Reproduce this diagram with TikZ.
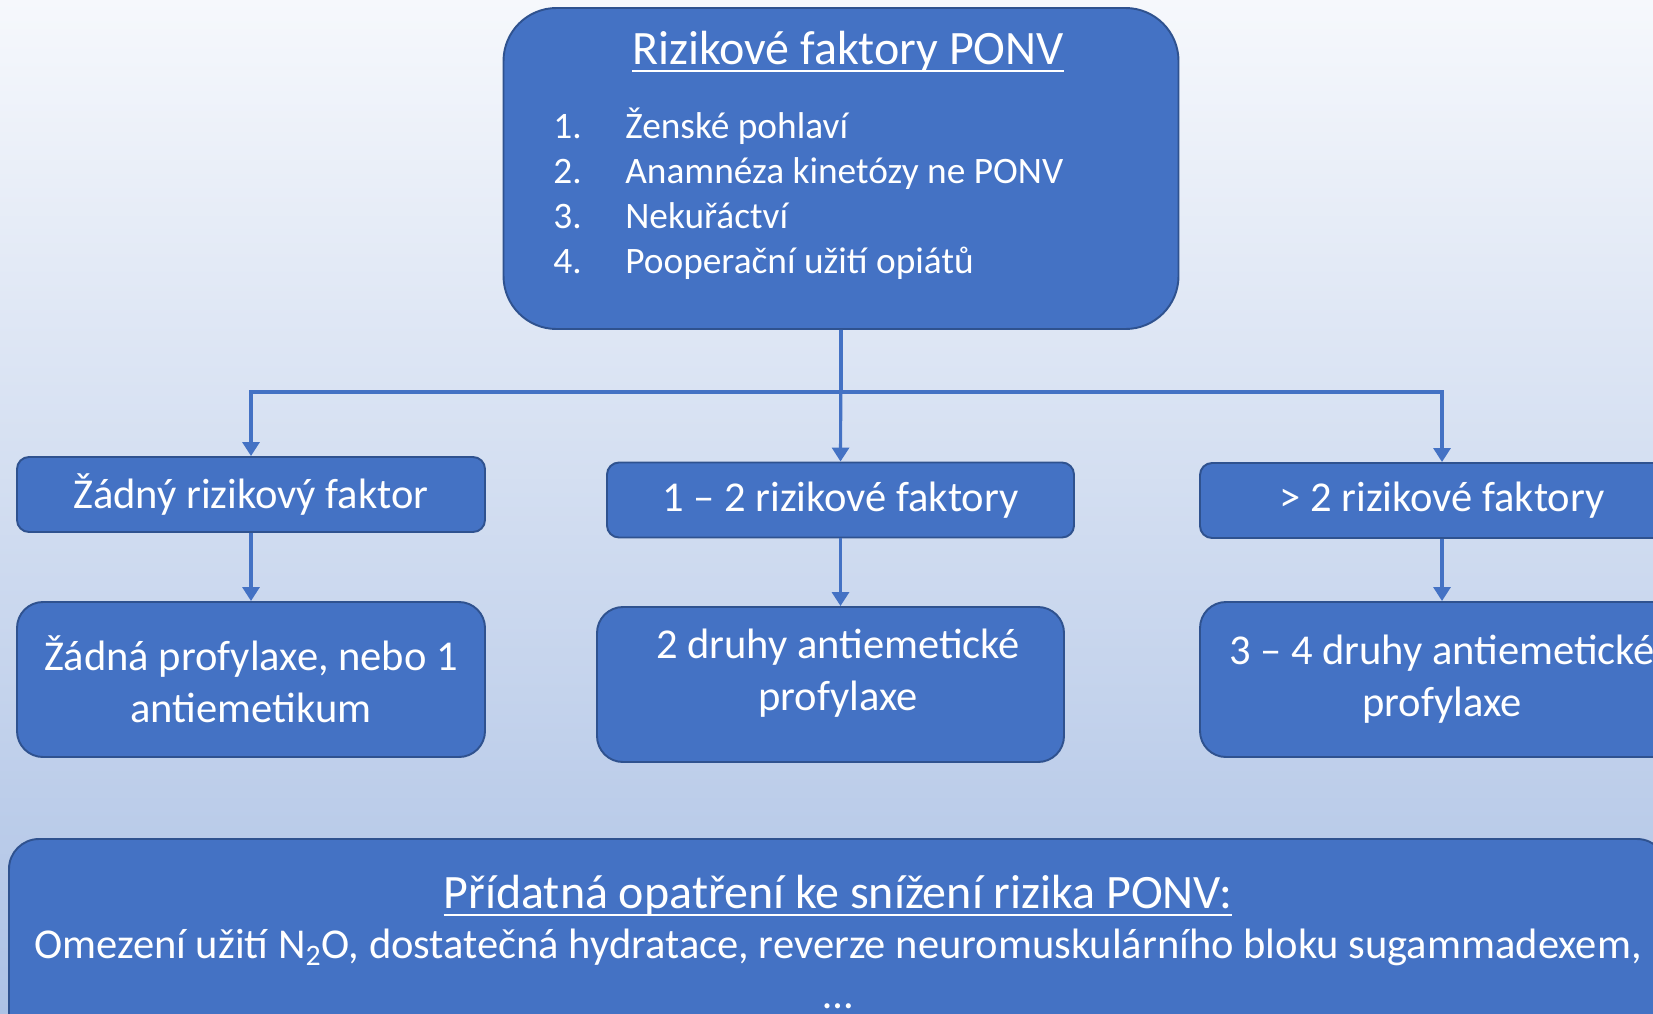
\documentclass[tikz,border=0pt]{standalone}
\usepackage{fontspec}
\setmainfont{Carlito}
\usetikzlibrary{arrows.meta}

\definecolor{ponvblue}{HTML}{4472C4}
\definecolor{ponvedge}{HTML}{2F528F}
\definecolor{bgtop}{HTML}{F6F8FC}
\definecolor{bgbottom}{HTML}{ADC2E5}

% underline at a fixed depth, as the slide does it
\newcommand{\ulined}[1]{\setbox0\hbox{#1}\rlap{\rule[-0.17em]{\wd0}{0.055em}}\box0}

\tikzset{
  bluebox/.style={draw=ponvedge, line width=1.1pt, fill=ponvblue, text=white, align=center},
  riskbox/.style={bluebox, rounded corners=0.24cm, minimum height=1.5cm, font=\fontsize{24.2}{28}\selectfont},
  profbox/.style={bluebox, rounded corners=0.52cm, minimum height=3.1cm, font=\fontsize{24.2}{29.5}\selectfont},
  listtext/.style={anchor=base west, inner sep=0pt, text=white, font=\fontsize{21.25}{26}\selectfont},
  link/.style={draw=ponvblue, line width=1.8pt, -{Triangle[width=0.34cm,length=0.28cm]}},
}

\begin{document}
\begin{tikzpicture}
\useasboundingbox (0,0) rectangle (33.06,-20.26);
\clip (0,0) rectangle (33.06,-20.26);
\shade[top color=bgtop, bottom color=bgbottom] (0,0) rectangle (33.06,-20.26);

% risk factors
\node[bluebox, rounded corners=1.06cm, minimum width=13.5cm, minimum height=6.42cm] (rf) at (16.82,-3.37) {};
\node[anchor=base, inner sep=0pt, text=white, font=\fontsize{27.3}{30}\selectfont] (rftitle) at (16.96,-1.28) {\ulined{Rizikové faktory PONV}};
\foreach \t [count=\i] in {Ženské pohlaví, Anamnéza kinetózy ne PONV, Nekuřáctví, Pooperační užití opiátů} {
  \node[listtext] (num\i) at (11.06,{-1.86-0.9*\i}) {\i.};
  \node[listtext] (item\i) at (12.5,{-1.86-0.9*\i}) {\t};
}

% number of factors
\node[riskbox, minimum width=9.36cm] (r0) at (5.02,-9.89) {Žádný rizikový faktor};
\node[riskbox, minimum width=9.34cm] (r12) at (16.81,-10.0) {1 – 2 rizikové faktory};
\node[riskbox, minimum width=9.68cm] (r3) at (28.84,-10.01) {> 2 rizikové faktory};

% prophylaxis
\node[profbox, minimum width=9.36cm] (p0) at (5.02,-13.59) {Žádná profylaxe, nebo 1\\antiemetikum};
\node[profbox, minimum width=9.34cm, text depth=0.6cm] (p12) at (16.61,-13.69) {\hspace*{0.3cm}2 druhy antiemetické\\\hspace*{0.3cm}profylaxe};
\node[profbox, minimum width=9.68cm] (p3) at (28.84,-13.59) {3 – 4 druhy antiemetické\\profylaxe};

% extra measures
\node[bluebox, rounded corners=0.6cm, minimum width=33.16cm, minimum height=4.12cm, font=\fontsize{24.2}{28.6}\selectfont] (extra) at (16.76,-18.84) {{\fontsize{27.3}{28.6}\selectfont\ulined{Přídatná opatření ke snížení rizika PONV:}}\\Omezení užití N\textsubscript{2}O, dostatečná hydratace, reverze neuromuskulárního bloku sugammadexem,\\…};

\coordinate (split) at (16.82,-7.84);
\draw[link] (rf.south) -- (r12.north);
\draw[link] (rf.south) -- (split) -| (r0.north);
\draw[link] (split) -| (r3.north);
\draw[link] (r0.south) -- (p0.north);
\draw[link] (r12.south) -- (r12.south |- p12.north);
\draw[link] (r3.south) -- (p3.north);
\end{tikzpicture}
\end{document}
